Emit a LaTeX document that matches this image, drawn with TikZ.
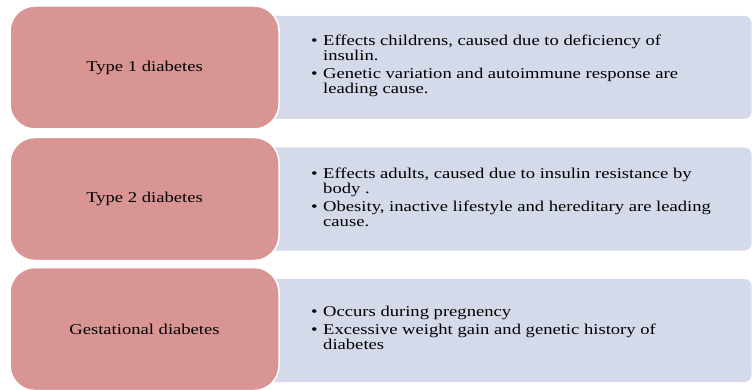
\documentclass[tikz,border=0pt]{standalone}
\usepackage{fontspec}
\setmainfont[FakeStretch=1.24]{Liberation Serif}
\definecolor{pinkfill}{RGB}{217,149,148}
\definecolor{bluefill}{RGB}{212,218,234}
\tikzset{
  pinkbox/.style={fill=pinkfill, draw=white, line width=1.5pt, rounded corners=25pt,
    minimum width=269pt, minimum height=123pt, inner sep=0pt, text=black,
    font=\fontsize{15}{15}\selectfont},
  bluebox/.style={fill=bluefill, draw=none, rounded corners=7pt,
    minimum width=487pt, minimum height=103pt, inner sep=0pt},
  listtext/.style={anchor=west, inner sep=0pt, align=left, text=black,
    font=\fontsize{15}{15}\selectfont}
}
\begin{document}
\begin{tikzpicture}[x=1pt,y=-1pt]
\useasboundingbox (0,0) rectangle (752,390);
% blue description boxes
\node[bluebox] (d1) at (508,67.5) {};
\node[bluebox] (d2) at (508,199) {};
\node[bluebox] (d3) at (508,330.5) {};
% pink title boxes
\node[pinkbox] (t1) at (144.5,67.5) {Type 1 diabetes};
\node[pinkbox] (t2) at (144.5,199) {Type 2 diabetes};
\node[pinkbox] (t3) at (144.5,329) {Gestational diabetes};
% lists
\node[listtext] (l1) at (311,66) {\begin{tabular}{@{}l@{\hspace{5.5pt}}l@{}}
\textbullet & Effects childrens, caused due to deficiency of\\
 & insulin.\\[3pt]
\textbullet & Genetic variation and autoimmune response are\\
 & leading cause.
\end{tabular}};
\node[listtext] (l2) at (311,199) {\begin{tabular}{@{}l@{\hspace{5.5pt}}l@{}}
\textbullet & Effects adults, caused due to insulin resistance by\\
 & body .\\[3pt]
\textbullet & Obesity, inactive lifestyle and hereditary are leading\\
 & cause.
\end{tabular}};
\node[listtext] (l3) at (311,330) {\begin{tabular}{@{}l@{\hspace{5.5pt}}l@{}}
\textbullet & Occurs during pregnency\\[3pt]
\textbullet & Excessive weight gain and genetic history of\\
 & diabetes
\end{tabular}};
\end{tikzpicture}
\end{document}
